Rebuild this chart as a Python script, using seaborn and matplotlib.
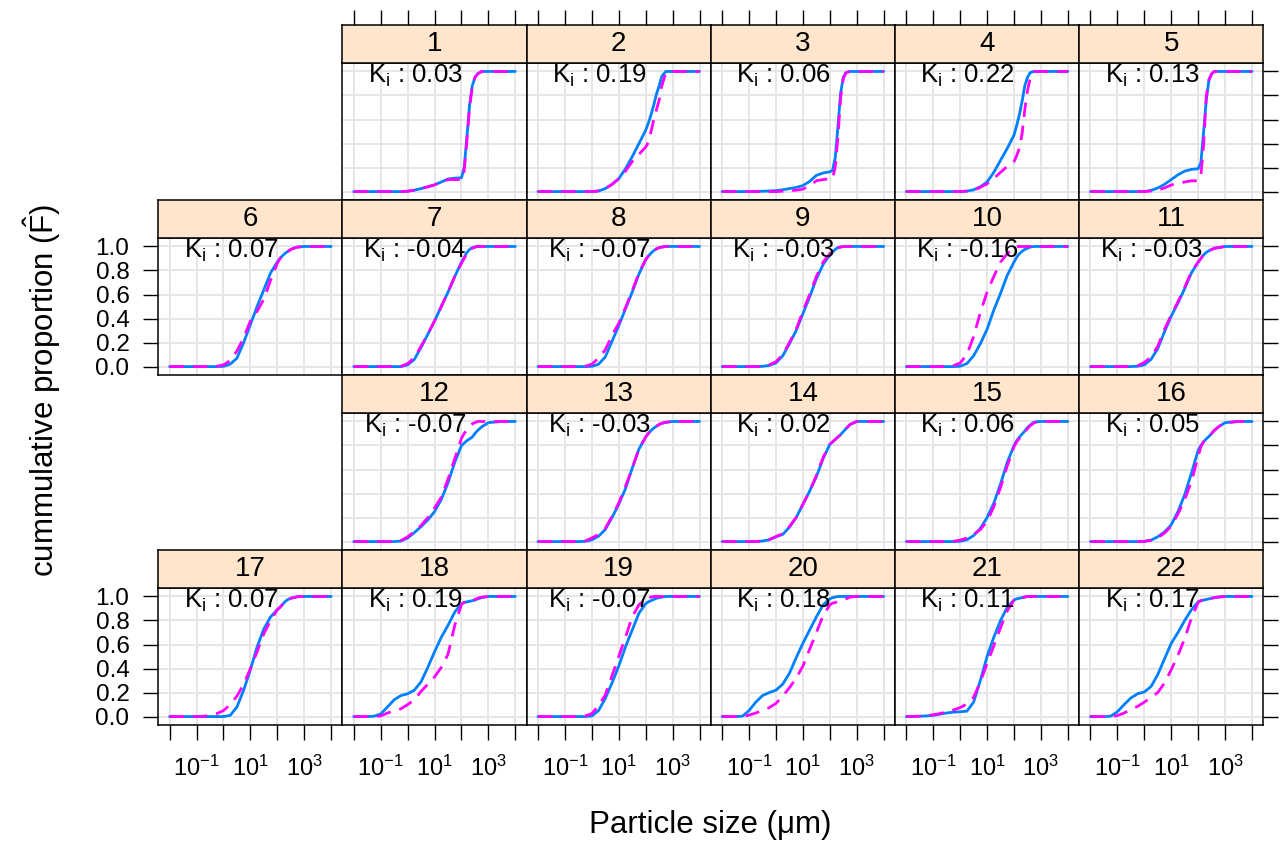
import numpy as np
import matplotlib
matplotlib.use("Agg")
import matplotlib.pyplot as plt
import seaborn as sns
from matplotlib.ticker import NullLocator, FixedLocator

sns.set_theme(style="white")
plt.rcParams['font.family'] = ['Liberation Sans', 'DejaVu Sans']
plt.rcParams['mathtext.fontset'] = 'custom'
plt.rcParams['mathtext.rm'] = 'Liberation Sans'
plt.rcParams['mathtext.it'] = 'Liberation Sans:italic'
plt.rcParams['mathtext.default'] = 'regular'
plt.rcParams['text.color'] = 'black'
plt.rcParams['xtick.color'] = 'black'
plt.rcParams['ytick.color'] = 'black'
plt.rcParams['xtick.labelcolor'] = 'black'
plt.rcParams['ytick.labelcolor'] = 'black'
plt.rcParams['axes.labelcolor'] = 'black'

# ---------------- data ----------------
log_size = [-2, -1.5, -1.25, -1, -0.75, -0.5, -0.25, 0, 0.25, 0.5, 0.75, 1, 1.25,
            1.5, 1.75, 2, 2.1, 2.2, 2.3, 2.4, 2.5, 2.6, 2.75, 3, 3.5, 4]

panel_ids = list(range(1, 23))
k_values = [0.03, 0.19, 0.06, 0.22, 0.13, 0.07, -0.04, -0.07, -0.03, -0.16, -0.03,
            -0.07, -0.03, 0.02, 0.06, 0.05, 0.07, 0.19, -0.07, 0.18, 0.11, 0.17]

obs_1 = [0,0,0,0,0,0,0,0.003,0.012,0.025,0.04,0.056,0.08,0.105,0.112,0.115,0.2,0.45,0.72,0.88,0.95,0.98,1,1,1,1]
fit_1 = [0,0,0,0,0,0,0,0.003,0.012,0.025,0.04,0.056,0.08,0.1,0.1,0.1,0.17,0.42,0.7,0.87,0.95,0.98,1,1,1,1]
obs_2 = [0,0,0,0,0,0,0,0,0.005,0.025,0.06,0.107,0.19,0.29,0.40,0.51,0.57,0.64,0.72,0.81,0.88,0.96,1,1,1,1]
fit_2 = [0,0,0,0,0,0,0,0,0.005,0.025,0.06,0.107,0.17,0.25,0.31,0.37,0.41,0.5,0.6,0.68,0.76,0.88,0.99,1,1,1]
obs_3 = [0,0,0,0,0.001,0.003,0.005,0.008,0.015,0.025,0.035,0.05,0.085,0.135,0.155,0.165,0.175,0.28,0.54,0.82,0.95,0.99,1,1,1,1]
fit_3 = [0,0,0,0,0,0,0,0,0.003,0.006,0.012,0.02,0.05,0.09,0.1,0.107,0.107,0.2,0.45,0.78,0.94,0.99,1,1,1,1]
obs_4 = [0,0,0,0,0,0,0,0,0.004,0.015,0.04,0.08,0.16,0.26,0.36,0.47,0.55,0.64,0.75,0.88,0.95,0.99,1,1,1,1]
fit_4 = [0,0,0,0,0,0,0,0,0.004,0.012,0.035,0.065,0.11,0.16,0.21,0.25,0.3,0.36,0.48,0.68,0.84,0.94,1,1,1,1]
obs_5 = [0,0,0,0,0,0,0,0,0.01,0.03,0.06,0.1,0.14,0.17,0.185,0.19,0.24,0.49,0.76,0.93,0.98,1,1,1,1,1]
fit_5 = [0,0,0,0,0,0,0,0,0.005,0.014,0.03,0.055,0.068,0.08,0.09,0.09,0.13,0.38,0.79,0.93,0.98,1,1,1,1,1]
obs_6 = [0,0,0,0,0,0,0,0.002,0.02,0.07,0.2,0.35,0.5,0.64,0.78,0.87,0.9,0.925,0.945,0.96,0.975,0.985,0.995,1,1,1]
fit_6 = [0,0,0,0,0,0,0.003,0.014,0.05,0.13,0.24,0.38,0.46,0.56,0.72,0.86,0.9,0.925,0.945,0.96,0.975,0.985,0.995,1,1,1]
obs_7 = [0,0,0,0,0,0,0,0.014,0.06,0.16,0.27,0.38,0.5,0.62,0.75,0.87,0.91,0.95,0.975,0.99,0.995,1,1,1,1,1]
fit_7 = [0,0,0,0,0,0,0.002,0.025,0.075,0.17,0.27,0.38,0.5,0.62,0.75,0.86,0.9,0.94,0.97,0.985,0.995,1,1,1,1,1]
obs_8 = [0,0,0,0,0,0,0,0.002,0.02,0.08,0.21,0.34,0.48,0.62,0.77,0.89,0.92,0.945,0.965,0.98,0.99,0.995,1,1,1,1]
fit_8 = [0,0,0,0,0,0,0.003,0.02,0.07,0.14,0.26,0.36,0.49,0.63,0.78,0.89,0.92,0.945,0.965,0.98,0.99,0.995,1,1,1,1]
obs_9 = [0,0,0,0,0,0.002,0.01,0.03,0.09,0.19,0.3,0.44,0.58,0.73,0.85,0.93,0.955,0.975,0.99,0.995,1,1,1,1,1,1]
fit_9 = [0,0,0,0,0,0.003,0.015,0.04,0.1,0.2,0.31,0.46,0.6,0.75,0.87,0.94,0.96,0.98,0.99,0.995,1,1,1,1,1,1]
obs_10 = [0,0,0,0,0,0,0,0.003,0.025,0.09,0.19,0.31,0.47,0.61,0.76,0.87,0.91,0.94,0.96,0.975,0.985,0.995,1,1,1,1]
fit_10 = [0,0,0,0,0,0,0.008,0.03,0.1,0.25,0.45,0.62,0.75,0.87,0.94,0.99,1,1,1,1,1,1,1,1,1,1]
obs_11 = [0,0,0,0,0,0,0.003,0.014,0.06,0.15,0.29,0.42,0.53,0.65,0.78,0.87,0.9,0.93,0.95,0.965,0.975,0.985,0.99,1,1,1]
fit_11 = [0,0,0,0,0,0,0.006,0.035,0.08,0.17,0.31,0.43,0.54,0.66,0.79,0.87,0.9,0.93,0.95,0.965,0.975,0.985,0.99,1,1,1]
obs_12 = [0,0,0,0,0,0,0.005,0.03,0.075,0.125,0.18,0.25,0.35,0.49,0.66,0.8,0.82,0.84,0.855,0.87,0.9,0.925,0.955,0.99,1,1]
fit_12 = [0,0,0,0,0,0,0.008,0.04,0.085,0.135,0.2,0.28,0.37,0.52,0.69,0.86,0.9,0.93,0.96,0.98,0.99,1,1,1,1,1]
obs_13 = [0,0,0,0,0,0,0.002,0.014,0.045,0.1,0.2,0.31,0.44,0.61,0.77,0.87,0.9,0.925,0.945,0.96,0.975,0.985,0.993,1,1,1]
fit_13 = [0,0,0,0,0,0,0.005,0.03,0.06,0.11,0.21,0.32,0.46,0.61,0.77,0.87,0.9,0.925,0.945,0.96,0.975,0.985,0.993,1,1,1]
obs_14 = [0,0,0,0,0,0.005,0.015,0.04,0.06,0.12,0.2,0.31,0.42,0.54,0.69,0.81,0.83,0.85,0.87,0.89,0.915,0.94,0.975,1,1,1]
fit_14 = [0,0,0,0,0,0.006,0.017,0.042,0.065,0.125,0.2,0.31,0.42,0.55,0.7,0.81,0.83,0.85,0.87,0.89,0.915,0.94,0.975,1,1,1]
obs_15 = [0,0,0,0,0,0,0,0.003,0.015,0.05,0.11,0.2,0.32,0.48,0.66,0.8,0.84,0.87,0.895,0.92,0.95,0.97,0.995,1,1,1]
fit_15 = [0,0,0,0,0,0,0.003,0.012,0.03,0.06,0.1,0.17,0.29,0.45,0.63,0.79,0.83,0.86,0.89,0.915,0.94,0.965,0.99,1,1,1]
obs_16 = [0,0,0,0,0,0,0,0.002,0.012,0.04,0.08,0.14,0.25,0.39,0.57,0.76,0.8,0.83,0.855,0.875,0.9,0.925,0.955,0.99,1,1]
fit_16 = [0,0,0,0,0,0,0,0.002,0.01,0.035,0.07,0.13,0.23,0.35,0.5,0.71,0.79,0.83,0.855,0.875,0.9,0.925,0.955,0.99,1,1]
obs_17 = [0,0,0,0,0,0,0,0,0.01,0.08,0.22,0.39,0.58,0.73,0.83,0.89,0.91,0.935,0.96,0.975,0.985,0.99,0.998,1,1,1]
fit_17 = [0,0,0,0,0.003,0.01,0.025,0.05,0.1,0.17,0.27,0.4,0.54,0.69,0.8,0.89,0.91,0.935,0.96,0.975,0.985,0.99,0.998,1,1,1]
obs_18 = [0,0,0.003,0.022,0.08,0.14,0.175,0.19,0.22,0.29,0.41,0.54,0.66,0.76,0.87,0.94,0.95,0.955,0.96,0.965,0.97,0.98,0.99,1,1,1]
fit_18 = [0,0,0,0.005,0.03,0.045,0.065,0.1,0.14,0.21,0.27,0.33,0.41,0.52,0.76,0.935,0.95,0.96,0.965,0.97,0.975,0.985,0.995,1,1,1]
obs_19 = [0,0,0,0,0,0,0,0.005,0.05,0.15,0.28,0.42,0.58,0.72,0.86,0.94,0.955,0.965,0.975,0.985,0.99,0.995,1,1,1,1]
fit_19 = [0,0,0,0,0,0,0.005,0.025,0.09,0.18,0.34,0.5,0.66,0.83,0.93,0.98,0.99,0.995,1,1,1,1,1,1,1,1]
obs_20 = [0,0,0.003,0.05,0.12,0.175,0.2,0.22,0.27,0.36,0.49,0.61,0.72,0.83,0.93,0.98,0.99,0.995,1,1,1,1,1,1,1,1]
fit_20 = [0,0,0,0.012,0.03,0.05,0.075,0.11,0.17,0.24,0.32,0.42,0.56,0.7,0.84,0.93,0.945,0.95,0.955,0.96,0.97,0.98,0.995,1,1,1]
obs_21 = [0,0.003,0.006,0.01,0.02,0.03,0.037,0.04,0.045,0.12,0.3,0.5,0.66,0.8,0.91,0.97,0.98,0.985,0.99,0.995,1,1,1,1,1,1]
fit_21 = [0,0.003,0.008,0.015,0.025,0.04,0.055,0.075,0.105,0.16,0.29,0.44,0.59,0.74,0.88,0.97,0.98,0.985,0.99,0.995,1,1,1,1,1,1]
obs_22 = [0,0,0.003,0.04,0.1,0.155,0.19,0.205,0.25,0.35,0.48,0.61,0.7,0.8,0.89,0.955,0.965,0.97,0.975,0.98,0.985,0.99,0.995,1,1,1]
fit_22 = [0,0,0,0.008,0.03,0.06,0.085,0.12,0.16,0.2,0.28,0.39,0.51,0.65,0.82,0.95,0.965,0.97,0.975,0.98,0.985,0.99,0.995,1,1,1]

observed = [obs_1, obs_2, obs_3, obs_4, obs_5, obs_6, obs_7, obs_8, obs_9, obs_10, obs_11,
            obs_12, obs_13, obs_14, obs_15, obs_16, obs_17, obs_18, obs_19, obs_20, obs_21, obs_22]
fitted = [fit_1, fit_2, fit_3, fit_4, fit_5, fit_6, fit_7, fit_8, fit_9, fit_10, fit_11,
          fit_12, fit_13, fit_14, fit_15, fit_16, fit_17, fit_18, fit_19, fit_20, fit_21, fit_22]

# layout: (row, col) of every panel in a 4 x 6 lattice
panel_row = [0]*5 + [1]*6 + [2]*5 + [3]*6
panel_col = [1, 2, 3, 4, 5] + [0, 1, 2, 3, 4, 5] + [1, 2, 3, 4, 5] + [0, 1, 2, 3, 4, 5]

x_tick_exp = [-2, -1, 0, 1, 2, 3, 4]
x_tick_labels = ['', r'$10^{-1}$', '', r'$10^{1}$', '', r'$10^{3}$', '']
y_ticks = [0.0, 0.2, 0.4, 0.6, 0.8, 1.0]
y_tick_labels = ['0.0', '0.2', '0.4', '0.6', '0.8', '1.0']

# ---------------- figure ----------------
W, H = 1283, 842
fig = plt.figure(figsize=(W / 100, H / 100), dpi=100)
fig.patch.set_facecolor('white')

sizes = 10.0 ** np.array(log_size)
xlim = (10 ** -2.42, 10 ** 4.42)
ylim = (-0.07, 1.073)

col_x0, col_w = 158.3, 184.17
row_y0, strip_h, panel_h = 25.0, 37.7, 137.3
row_pitch = strip_h + panel_h

BLUE = '#0080ff'
MAGENTA = '#ff00ff'
GRID = '#e6e6e6'
STRIP = '#ffe5cc'
TICKLEN = 10.8

def frac(x, y, w, h):
    return [x / W, 1 - (y + h) / H, w / W, h / H]

for i, pid in enumerate(panel_ids):
    r, c = panel_row[i], panel_col[i]
    x0 = col_x0 + c * col_w
    ys = row_y0 + r * row_pitch
    # panel
    ax = fig.add_axes(frac(x0, ys + strip_h, col_w, panel_h))
    sns.lineplot(x=sizes, y=observed[i], ax=ax, color=BLUE, lw=2.0, zorder=3)
    sns.lineplot(x=sizes, y=fitted[i], ax=ax, color=MAGENTA, lw=2.0, zorder=4,
                 dashes=False)
    ax.lines[-1].set_dashes([5.2, 3.2])
    ax.set_xscale('log')
    ax.set_xlim(*xlim)
    ax.set_ylim(*ylim)
    ax.xaxis.set_major_locator(FixedLocator(10.0 ** np.array(x_tick_exp)))
    ax.xaxis.set_minor_locator(NullLocator())
    ax.set_yticks(y_ticks)
    ax.grid(True, color=GRID, lw=1.4)
    ax.set_axisbelow(True)
    ax.set_xlabel('')
    ax.set_ylabel('')
    bottom = (r == 3)
    left = (c == 0)
    right = (c == 5)
    ax.set_xticklabels(x_tick_labels if bottom else [''] * 7)
    ax.set_yticklabels(y_tick_labels if left else [''] * 6)
    ax.tick_params(axis='x', which='both', bottom=bottom, top=False,
                   labelbottom=bottom, direction='out', length=TICKLEN,
                   width=1.0, color='black', pad=11, labelsize=17)
    ax.tick_params(axis='y', which='both', left=left, right=right,
                   labelleft=left, labelright=False, direction='out',
                   length=TICKLEN, width=1.0, color='black', pad=10,
                   labelsize=17.5)
    for sp in ax.spines.values():
        sp.set_color('black')
        sp.set_linewidth(1.1)
    ax.text(10 ** 0.28, 0.903, r'K$_{i}$ : ' + f'{k_values[i]:.2f}',
            ha='center', va='baseline', fontsize=18.5, color='black', zorder=6)

    # strip
    sx = fig.add_axes(frac(x0, ys, col_w, strip_h))
    sx.set_facecolor(STRIP)
    sx.set_xscale('log')
    sx.set_xlim(*xlim)
    sx.set_ylim(0, 1)
    sx.xaxis.set_major_locator(FixedLocator(10.0 ** np.array(x_tick_exp)))
    sx.xaxis.set_minor_locator(NullLocator())
    sx.set_yticks([])
    top = (r == 0)
    sx.tick_params(axis='x', which='both', bottom=False, top=top,
                   labelbottom=False, labeltop=False, direction='out',
                   length=TICKLEN, width=1.0, color='black')
    for sp in sx.spines.values():
        sp.set_color('black')
        sp.set_linewidth(1.1)
    sx.text(0.5, 0.5, str(pid), transform=sx.transAxes, ha='center',
            va='center', fontsize=20, color='black')

fig.text(710.5 / W, 1 - 825 / H, 'Particle size (\u03bcm)', ha='center',
         va='center', fontsize=22.5, color='black')
fig.text(42 / W, 1 - 390 / H, r'cummulative proportion ($\hat{F}$)',
         ha='center', va='center', rotation=90, fontsize=22.5, color='black')

fig.savefig('out.png', dpi=100, facecolor='white')
